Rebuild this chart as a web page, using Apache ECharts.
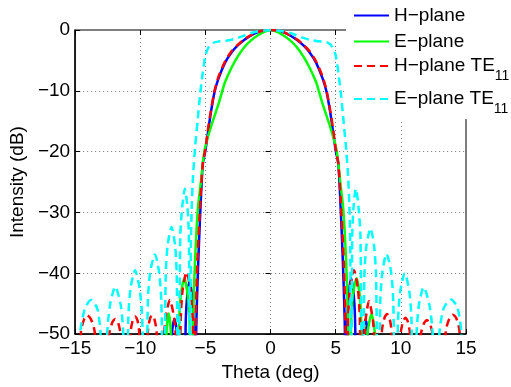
<!DOCTYPE html>
<html><head><meta charset="utf-8">
<script src="https://cdn.jsdelivr.net/npm/echarts@6/dist/echarts.min.js"></script>
<style>html,body{margin:0;padding:0;background:#fff}#c{width:511px;height:387px}</style>
</head><body><div id="c"></div>
<script>
// [theta (deg), intensity (dB)]
const hPlane = [[-15,-60],[-7.7,-60],[-7.55,-49.5],[-7.38,-47.5],[-7.2,-49.5],[-7.05,-60],[-6.62,-70],[-6.52,-49],[-6.42,-44.3],[-6.22,-41.3],[-6.0,-44.3],[-5.9,-49],[-5.78,-70],[-5.71,-50],[-5.56,-38.7],[-5.35,-27.8],[-5.2,-22],[-5.0,-19.8],[-4.8,-16.8],[-4.6,-13.8],[-4.3,-10.2],[-4.0,-8],[-3.5,-5.4],[-3.0,-3.7],[-2.5,-2.5],[-2.0,-1.6],[-1.5,-0.9],[-1.0,-0.4],[-0.5,-0.1],[0,0],[0.5,-0.1],[1.0,-0.4],[1.5,-0.9],[2.0,-1.6],[2.5,-2.5],[3.0,-3.7],[3.5,-5.4],[4.0,-8],[4.3,-10.2],[4.6,-13.8],[4.8,-16.8],[5.0,-19.8],[5.2,-22],[5.35,-27.8],[5.56,-38.7],[5.71,-50],[5.78,-70],[5.88,-49],[5.98,-44],[6.18,-40.8],[6.4,-44],[6.5,-49],[6.6,-70],[6.95,-60],[7.1,-49.5],[7.29,-47.6],[7.45,-49.5],[7.6,-60],[15,-60]];
const ePlane = [[-15,-60],[-8.15,-60],[-7.98,-49.5],[-7.82,-46.6],[-7.66,-49.5],[-7.5,-60],[-7.16,-70],[-7.03,-49],[-6.9,-43.8],[-6.62,-40.8],[-6.35,-43.8],[-6.2,-49],[-6.02,-70],[-5.96,-50],[-5.81,-38.7],[-5.58,-29.5],[-5.35,-25],[-5.1,-20.2],[-4.9,-18.3],[-4.5,-15.4],[-4.0,-12.2],[-3.7,-10],[-3.5,-8.6],[-3.0,-6.2],[-2.5,-4.3],[-2.0,-2.8],[-1.5,-1.7],[-1.0,-0.9],[-0.5,-0.3],[0,0],[0.5,-0.3],[1.0,-0.9],[1.5,-1.7],[2.0,-2.8],[2.5,-4.3],[3.0,-6.2],[3.5,-8.6],[3.7,-10],[4.0,-12.2],[4.5,-15.4],[4.9,-18.3],[5.1,-20.2],[5.35,-25],[5.58,-29.5],[5.81,-38.7],[5.96,-50],[6.02,-70],[6.17,-49],[6.3,-43.8],[6.6,-40.8],[6.85,-43.8],[6.97,-49],[7.1,-70],[7.2,-60],[7.45,-49.7],[7.75,-46.7],[8.0,-49.7],[8.25,-60],[15,-60]];
const hPlaneTE11 = [[-15,-70],[-14.55,-49.6],[-14.3,-47.5],[-14.08,-46.9],[-13.8,-47.5],[-13.5,-49.6],[-12.9,-70],[-12.4,-50.2],[-12.15,-48.1],[-11.92,-47.5],[-11.7,-48.1],[-11.5,-50.2],[-11.1,-70],[-10.75,-49.8],[-10.58,-47.7],[-10.4,-47.1],[-10.22,-47.7],[-10.08,-49.8],[-9.75,-70],[-9.42,-49.6],[-9.26,-47.5],[-9.1,-46.9],[-8.92,-47.5],[-8.75,-49.6],[-8.4,-70],[-8.23,-52.4],[-8.06,-47.4],[-7.73,-44.4],[-7.4,-47.4],[-7.22,-52.4],[-7.05,-70],[-6.9,-47.8],[-6.75,-42.8],[-6.45,-39.8],[-6.15,-42.8],[-5.97,-47.8],[-5.82,-70],[-5.76,-50],[-5.63,-38.7],[-5.38,-27.8],[-5.2,-22],[-5.0,-19.5],[-4.8,-16.3],[-4.6,-13.5],[-4.3,-10],[-4.0,-7.7],[-3.5,-5.2],[-3.0,-3.5],[-2.5,-2.4],[-2.0,-1.5],[-1.5,-0.85],[-1.0,-0.35],[-0.5,-0.1],[0,0],[0.5,-0.1],[1.0,-0.35],[1.5,-0.85],[2.0,-1.5],[2.5,-2.4],[3.0,-3.5],[3.5,-5.2],[4.0,-7.7],[4.3,-10],[4.6,-13.5],[4.8,-16.3],[5.0,-19.5],[5.2,-22],[5.38,-27.8],[5.63,-38.7],[5.76,-50],[5.82,-70],[5.95,-47.5],[6.1,-42.5],[6.4,-39.5],[6.7,-42.5],[6.85,-47.5],[7.0,-70],[7.15,-52.6],[7.3,-47.6],[7.55,-44.6],[7.85,-47.6],[8.0,-52.6],[8.2,-70],[8.55,-49.4],[8.75,-47.3],[8.94,-46.7],[9.12,-47.3],[9.28,-49.4],[9.62,-70],[9.98,-50],[10.17,-47.9],[10.35,-47.3],[10.53,-47.9],[10.7,-50],[11.05,-70],[11.5,-50.4],[11.76,-48.3],[12.0,-47.7],[12.24,-48.3],[12.45,-50.4],[12.9,-70],[13.45,-49.5],[13.73,-47.4],[14.0,-46.8],[14.26,-47.4],[14.5,-49.5],[14.95,-70],[15,-65]];
const ePlaneTE11 = [[-15,-65],[-14.9,-70],[-14.62,-50],[-14.25,-45.8],[-13.78,-44.4],[-13.3,-45.8],[-13.05,-50],[-12.8,-70],[-12.55,-50.2],[-12.32,-45.2],[-11.92,-42.2],[-11.5,-45.2],[-11.3,-50.2],[-11.1,-70],[-10.92,-47.5],[-10.75,-42.5],[-10.4,-39.5],[-10.05,-42.5],[-9.85,-47.5],[-9.6,-70],[-9.42,-44.9],[-9.25,-39.9],[-8.87,-36.9],[-8.55,-39.9],[-8.38,-44.9],[-8.2,-70],[-8.05,-40.4],[-7.9,-35.4],[-7.6,-32.4],[-7.33,-35.4],[-7.2,-40.4],[-7.08,-70],[-6.93,-34],[-6.78,-29.1],[-6.58,-26.1],[-6.38,-29.1],[-6.27,-34],[-6.17,-70],[-6.12,-36],[-6.05,-29],[-5.95,-24],[-5.8,-19.5],[-5.6,-15],[-5.4,-10.5],[-5.2,-7],[-5.0,-4.2],[-4.75,-2.8],[-4.4,-2.1],[-4.0,-1.9],[-3.5,-1.8],[-3.0,-1.6],[-2.5,-1.3],[-2.0,-0.9],[-1.5,-0.5],[-1.0,-0.25],[-0.5,-0.1],[0,0],[0.5,-0.1],[1.0,-0.25],[1.5,-0.5],[2.0,-0.9],[2.5,-1.3],[3.0,-1.6],[3.5,-1.8],[4.0,-1.9],[4.4,-2.1],[4.75,-2.8],[5.0,-4.2],[5.2,-7],[5.4,-10.5],[5.6,-15],[5.8,-19.5],[5.95,-24],[6.05,-29],[6.12,-36],[6.17,-70],[6.27,-34],[6.37,-29.1],[6.55,-26.1],[6.75,-29.1],[6.9,-34],[7.05,-70],[7.2,-40.6],[7.35,-35.6],[7.67,-32.6],[7.95,-35.6],[8.1,-40.6],[8.25,-70],[8.42,-44.8],[8.58,-39.8],[8.9,-36.8],[9.25,-39.8],[9.42,-44.8],[9.6,-70],[9.78,-48],[9.95,-43],[10.3,-40],[10.65,-43],[10.82,-48],[11.0,-70],[11.2,-50.3],[11.38,-45.3],[11.75,-42.3],[12.2,-45.3],[12.45,-50.3],[12.7,-70],[12.95,-50],[13.3,-45.7],[13.85,-44.3],[14.35,-45.7],[14.65,-50],[14.9,-70],[15,-60]];

const seriesNames = ['H\u2212plane', 'E\u2212plane', 'H\u2212plane TE11', 'E\u2212plane TE11'];
const xRange = [-15, 15], xStep = 5;
const yRange = [-50, 0], yStep = 10;

const FONT = 'Liberation Sans, Arial, Helvetica, sans-serif';
const FS = 19;
const minusFmt = v => String(v).replace('-', '\u2212');
const chart = echarts.init(document.getElementById('c'));

function legendFor(name, top) {
  return {
    data: [name], left: 353, top: top, padding: 0, itemWidth: 35, itemHeight: 14, itemGap: 0,
    z: 200, selectedMode: false,
    itemStyle: { opacity: 0 },
    textStyle: {
      fontFamily: FONT, fontSize: FS, color: '#000',
      rich: {
        t: { fontFamily: FONT, fontSize: FS, color: '#000', lineHeight: 20 },
        s: { fontFamily: FONT, fontSize: 14, color: '#000', lineHeight: 14, padding: [20, 0, 0, 0] }
      }
    },
    formatter: n => n.endsWith('TE11') ? '{t|' + n.slice(0, -2) + '}{s|11}' : n
  };
}

const common = { type: 'line', showSymbol: false, symbol: 'none', clip: true, smooth: 0.25, animation: false };
const gridLine = { show: true, lineStyle: { color: '#777', type: [1, 3], width: 1 } };

chart.setOption({
  animation: false,
  grid: { left: 73, right: 45, top: 30, bottom: 51, show: true, borderColor: '#000', borderWidth: 1, backgroundColor: 'transparent' },
  xAxis: [{
    type: 'value', min: xRange[0], max: xRange[1], interval: xStep,
    name: 'Theta (deg)', nameLocation: 'middle', nameGap: 26,
    nameTextStyle: { fontFamily: FONT, fontSize: FS, color: '#000' },
    axisLine: { onZero: false, lineStyle: { color: '#000', width: 1.5 } },
    axisTick: { inside: true, length: 5, lineStyle: { color: '#000' } },
    axisLabel: { fontFamily: FONT, fontSize: FS, color: '#000', margin: 5, formatter: minusFmt },
    splitLine: gridLine
  }, {
    type: 'value', min: xRange[0], max: xRange[1], interval: xStep, position: 'top',
    axisLine: { show: false }, axisLabel: { show: false }, splitLine: { show: false },
    axisTick: { inside: true, length: 5, lineStyle: { color: '#000' } }
  }],
  yAxis: [{
    type: 'value', min: yRange[0], max: yRange[1], interval: yStep,
    name: 'Intensity (dB)', nameLocation: 'middle', nameGap: 46,
    nameTextStyle: { fontFamily: FONT, fontSize: FS, color: '#000' },
    axisLine: { show: true, onZero: false, lineStyle: { color: '#000', width: 1.5 } },
    axisTick: { show: true, inside: true, length: 5, lineStyle: { color: '#000' } },
    axisLabel: { fontFamily: FONT, fontSize: FS, color: '#000', margin: 5, formatter: minusFmt },
    splitLine: gridLine
  }, {
    type: 'value', min: yRange[0], max: yRange[1], interval: yStep, position: 'right',
    axisLine: { show: false }, axisLabel: { show: false }, splitLine: { show: false },
    axisTick: { show: true, inside: true, length: 5, lineStyle: { color: '#000' } }
  }],
  legend: [legendFor(seriesNames[0], 6), legendFor(seriesNames[1], 32), legendFor(seriesNames[2], 49), legendFor(seriesNames[3], 82)],
  graphic: [{ type: 'rect', left: 346, top: 0, shape: { width: 170, height: 119 }, style: { fill: '#fff' }, z: 100, silent: true }],
  series: [
    Object.assign({}, common, { name: seriesNames[0], data: hPlane, z: 3, lineStyle: { color: '#0000ff', width: 2.5 }, itemStyle: { color: '#0000ff' } }),
    Object.assign({}, common, { name: seriesNames[1], data: ePlane, z: 4, lineStyle: { color: '#00ff00', width: 2.5 }, itemStyle: { color: '#00ff00' } }),
    Object.assign({}, common, { name: seriesNames[2], data: hPlaneTE11, z: 5, lineStyle: { color: '#ff0000', width: 2.5, type: [8, 5] }, itemStyle: { color: '#ff0000' } }),
    Object.assign({}, common, { name: seriesNames[3], data: ePlaneTE11, z: 6, lineStyle: { color: '#00ffff', width: 2.5, type: [8, 5] }, itemStyle: { color: '#00ffff' } })
  ]
});
</script></body></html>
